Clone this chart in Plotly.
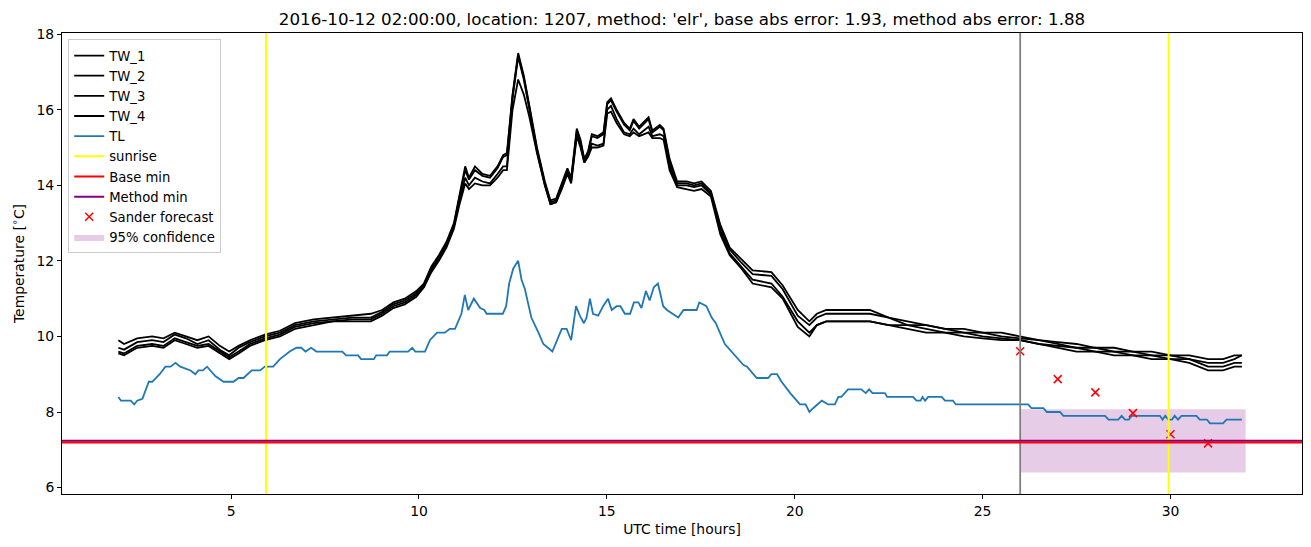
import plotly.graph_objects as go

# ---------------- data ----------------
title_text = ("2016-10-12 02:00:00, location: 1207, method: 'elr', "
              "base abs error: 1.93, method abs error: 1.88")

tw_time = [
    2.0, 2.15, 2.5, 2.9, 3.2, 3.5, 3.8, 4.1, 4.4, 4.7,
    4.95, 5.2, 5.5, 5.9, 6.3, 6.7, 7.2, 7.7, 8.22, 8.72,
    9.02, 9.32, 9.62, 9.93, 10.13, 10.33, 10.53, 10.73, 10.93, 11.08,
    11.23, 11.33, 11.49, 11.69, 11.89, 12.09, 12.24, 12.34, 12.49, 12.64,
    12.79, 12.94, 13.14, 13.35, 13.5, 13.65, 13.8, 13.95, 14.05, 14.2,
    14.3, 14.4, 14.5, 14.6, 14.75, 14.91, 15.01, 15.11, 15.26, 15.46,
    15.61, 15.71, 15.86, 16.11, 16.21, 16.41, 16.51, 16.67, 16.87, 17.12,
    17.32, 17.52, 17.77, 18.02, 18.27, 18.58, 18.88, 19.38, 19.68, 20.08,
    20.39, 20.59, 20.84, 21.5, 22.0, 22.5, 23.0, 23.5, 24.0, 24.5,
    25.0, 25.5, 26.0, 26.5, 27.0, 27.5, 28.0, 28.5, 29.0, 29.5,
    30.0, 30.5, 31.0, 31.4, 31.7, 31.9,
]
tw_1 = [
    9.9, 9.8, 9.95, 10.0, 9.95, 10.1, 10.0, 9.9, 10.0, 9.75,
    9.6, 9.75, 9.9, 10.05, 10.15, 10.35, 10.45, 10.5, 10.55, 10.6,
    10.7, 10.9, 11.0, 11.2, 11.4, 11.85, 12.15, 12.5, 13.0, 13.75,
    14.5, 14.2, 14.5, 14.3, 14.25, 14.5, 14.8, 14.85, 16.4, 17.5,
    16.9, 16.1, 15.0, 14.1, 13.6, 13.65, 14.05, 14.45, 14.2, 15.5,
    15.2, 14.7, 14.9, 15.35, 15.3, 15.4, 16.2, 16.3, 16.0, 15.65,
    15.5, 15.75, 15.55, 15.8, 15.45, 15.6, 15.5, 14.7, 14.1, 14.1,
    14.05, 14.1, 13.85, 12.95, 12.35, 12.05, 11.75, 11.7, 11.35, 10.7,
    10.4, 10.6, 10.7, 10.7, 10.7, 10.5, 10.4, 10.3, 10.2, 10.2,
    10.1, 10.1, 10.0, 9.9, 9.85, 9.8, 9.7, 9.7, 9.6, 9.6,
    9.5, 9.5, 9.4, 9.4, 9.5, 9.5,
]
tw_2 = [
    9.7, 9.65, 9.85, 9.9, 9.85, 10.05, 9.95, 9.8, 9.9, 9.65,
    9.5, 9.7, 9.85, 10.0, 10.1, 10.3, 10.4, 10.45, 10.5, 10.5,
    10.65, 10.85, 10.95, 11.15, 11.35, 11.8, 12.1, 12.45, 12.95, 13.7,
    14.4, 14.15, 14.4, 14.25, 14.2, 14.45, 14.75, 14.8, 16.35, 17.45,
    16.85, 16.05, 14.95, 14.05, 13.55, 13.6, 14.0, 14.4, 14.15, 15.45,
    15.15, 14.65, 14.85, 15.3, 15.25, 15.35, 16.15, 16.25, 15.95, 15.6,
    15.45, 15.7, 15.5, 15.75, 15.4, 15.55, 15.45, 14.6, 14.05, 14.05,
    14.0, 14.05, 13.8, 12.9, 12.3, 11.95, 11.65, 11.6, 11.25, 10.55,
    10.3, 10.5, 10.6, 10.6, 10.6, 10.5, 10.3, 10.3, 10.2, 10.1,
    10.1, 10.0, 9.95, 9.9, 9.8, 9.7, 9.7, 9.6, 9.6, 9.5,
    9.5, 9.4, 9.3, 9.3, 9.4, 9.5,
]
tw_3 = [
    9.6, 9.55, 9.75, 9.8, 9.75, 9.95, 9.85, 9.75, 9.8, 9.6,
    9.45, 9.6, 9.8, 9.95, 10.05, 10.25, 10.35, 10.4, 10.45, 10.45,
    10.6, 10.8, 10.9, 11.1, 11.3, 11.75, 12.05, 12.4, 12.9, 13.6,
    14.2, 14.0, 14.2, 14.1, 14.05, 14.3, 14.5, 14.5, 16.3, 17.4,
    16.8, 16.0, 14.9, 14.0, 13.5, 13.55, 13.95, 14.35, 14.1, 15.35,
    15.05, 14.6, 14.8, 15.1, 15.05, 15.1, 16.0, 16.1, 15.75, 15.4,
    15.35, 15.5, 15.35, 15.55, 15.3, 15.35, 15.3, 14.5, 14.0, 14.0,
    13.95, 14.0, 13.75, 12.8, 12.2, 11.85, 11.5, 11.4, 11.05, 10.4,
    10.1, 10.3, 10.4, 10.4, 10.4, 10.3, 10.3, 10.2, 10.1, 10.1,
    10.0, 9.95, 9.9, 9.8, 9.75, 9.7, 9.6, 9.6, 9.5, 9.5,
    9.4, 9.4, 9.2, 9.2, 9.3, 9.3,
]
tw_4 = [
    9.55, 9.5, 9.7, 9.75, 9.7, 9.9, 9.8, 9.7, 9.75, 9.55,
    9.4, 9.55, 9.75, 9.9, 10.0, 10.2, 10.3, 10.4, 10.4, 10.4,
    10.55, 10.75, 10.85, 11.05, 11.3, 11.7, 12.0, 12.35, 12.85, 13.5,
    14.05, 13.9, 14.05, 14.0, 14.0, 14.2, 14.4, 14.4, 16.0, 16.8,
    16.4, 15.8, 14.85, 14.0, 13.5, 13.55, 13.9, 14.3, 14.05, 15.3,
    15.0, 14.6, 14.75, 15.0, 15.0, 15.05, 15.9, 15.95, 15.65, 15.35,
    15.3, 15.4, 15.3, 15.4, 15.25, 15.25, 15.2, 14.4, 13.95, 13.9,
    13.85, 13.9, 13.7, 12.7, 12.15, 11.8, 11.4, 11.3, 11.0, 10.25,
    10.0, 10.3, 10.4, 10.4, 10.4, 10.3, 10.2, 10.1, 10.1, 10.0,
    9.95, 9.9, 9.9, 9.8, 9.7, 9.6, 9.6, 9.5, 9.5, 9.4,
    9.4, 9.3, 9.1, 9.1, 9.2, 9.2,
]

tl_time = [
    2.0, 2.07, 2.33, 2.42, 2.5, 2.64, 2.81, 2.9, 3.1, 3.25,
    3.39, 3.52, 3.65, 3.78, 3.92, 4.05, 4.13, 4.25, 4.36, 4.58,
    4.8, 5.06, 5.2, 5.33, 5.55, 5.77, 5.9, 6.12, 6.3, 6.56,
    6.74, 6.87, 6.98, 7.13, 7.27, 7.96, 8.06, 8.38, 8.46, 8.8,
    8.86, 9.15, 9.22, 9.71, 9.82, 9.9, 10.16, 10.29, 10.48, 10.69,
    10.82, 10.96, 11.13, 11.22, 11.31, 11.46, 11.63, 11.74, 11.8, 12.23,
    12.32, 12.4, 12.51, 12.64, 12.73, 12.82, 12.99, 13.18, 13.31, 13.55,
    13.8, 13.93, 14.05, 14.18, 14.28, 14.39, 14.46, 14.55, 14.63, 14.77,
    14.9, 15.03, 15.13, 15.26, 15.36, 15.48, 15.62, 15.72, 15.84, 15.92,
    16.04, 16.14, 16.25, 16.36, 16.5, 16.6, 16.9, 17.04, 17.39, 17.46,
    17.57, 17.65, 17.79, 17.9, 18.14, 18.36, 18.63, 18.73, 18.99, 19.29,
    19.38, 19.53, 19.65, 19.88, 20.14, 20.29, 20.39, 20.49, 20.72, 20.89,
    21.07, 21.16, 21.24, 21.42, 21.77, 21.89, 21.98, 22.07, 22.4, 22.46,
    23.15, 23.24, 23.35, 23.4, 23.47, 23.55, 23.91, 24.0, 24.21, 24.29,
    26.21, 26.3, 26.62, 26.71, 27.06, 27.15, 28.26, 28.35, 28.61, 28.7,
    28.79, 28.89, 28.97, 29.72, 29.79, 29.86, 29.94, 30.04, 30.11, 30.2,
    30.29, 30.69, 30.78, 30.97, 31.05, 31.4, 31.49, 31.9,
]
tl_values = [
    8.4, 8.3, 8.3, 8.2, 8.3, 8.35, 8.8, 8.8, 9.0, 9.2,
    9.2, 9.3, 9.2, 9.15, 9.1, 9.0, 9.1, 9.1, 9.2, 8.95,
    8.8, 8.8, 8.9, 8.9, 9.1, 9.1, 9.2, 9.2, 9.4, 9.6,
    9.7, 9.7, 9.6, 9.7, 9.6, 9.6, 9.5, 9.5, 9.4, 9.4,
    9.5, 9.5, 9.6, 9.6, 9.7, 9.6, 9.6, 9.9, 10.1, 10.1,
    10.2, 10.2, 10.6, 11.1, 10.7, 11.0, 10.75, 10.7, 10.6, 10.6,
    10.8, 11.4, 11.8, 12.0, 11.5, 11.25, 10.5, 10.1, 9.8, 9.6,
    10.2, 10.2, 9.9, 10.8, 10.55, 10.35, 10.5, 11.0, 10.6, 10.55,
    10.8, 11.0, 10.7, 10.8, 10.8, 10.6, 10.6, 10.9, 10.9, 10.75,
    11.2, 10.95, 11.3, 11.4, 10.8, 10.7, 10.5, 10.7, 10.7, 10.9,
    10.85, 10.8, 10.5, 10.35, 9.8, 9.55, 9.25, 9.2, 8.9, 8.9,
    9.0, 9.0, 8.8, 8.5, 8.2, 8.2, 8.0, 8.1, 8.3, 8.2,
    8.2, 8.4, 8.4, 8.6, 8.6, 8.5, 8.6, 8.5, 8.5, 8.4,
    8.4, 8.3, 8.3, 8.4, 8.3, 8.4, 8.4, 8.3, 8.3, 8.2,
    8.2, 8.1, 8.1, 8.0, 8.0, 7.9, 7.9, 7.8, 7.8, 7.9,
    7.8, 7.8, 7.9, 7.9, 7.8, 7.9, 7.8, 7.8, 7.9, 7.8,
    7.9, 7.9, 7.8, 7.8, 7.7, 7.7, 7.8, 7.8,
]

sunrise_times = [5.93, 29.95]
forecast_start = 26.0
base_min = 7.19
method_min = 7.24
sander_time = [26, 27, 28, 29, 30, 31]
sander_values = [9.61, 8.87, 8.52, 7.97, 7.41, 7.17]
conf_start, conf_end = 26.0, 32.0
conf_low, conf_high = 6.40, 8.07

x_ticks = [5, 10, 15, 20, 25, 30]
y_ticks = [6, 8, 10, 12, 14, 16, 18]
x_range = [0.5, 33.5]
y_range = [5.83, 18.03]

FONT = "DejaVu Sans"
FS = 13.9
LEG_FS = 13.2
# ---------------- figure ----------------
fig = go.Figure()

fig.add_trace(go.Scatter(
    x=[conf_start, conf_end, conf_end, conf_start, conf_start],
    y=[conf_low, conf_low, conf_high, conf_high, conf_low],
    fill="toself", fillcolor="rgba(128,0,128,0.2)", mode="lines",
    line=dict(width=0, color="rgba(128,0,128,0.2)"),
    name="95% confidence", legendrank=10, hoverinfo="skip"))

for i, (name, vals) in enumerate([("TW_1", tw_1), ("TW_2", tw_2),
                                   ("TW_3", tw_3), ("TW_4", tw_4)]):
    fig.add_trace(go.Scatter(x=tw_time, y=vals, mode="lines", name=name,
                             line=dict(color="black", width=1.8),
                             legendrank=1 + i))

fig.add_trace(go.Scatter(x=tl_time, y=tl_values, mode="lines", name="TL",
                         line=dict(color="#1f77b4", width=1.8), legendrank=5))

fig.add_trace(go.Scatter(x=[None], y=[None], mode="lines", name="sunrise",
                         line=dict(color="yellow", width=2), legendrank=6))
fig.add_trace(go.Scatter(x=[None], y=[None], mode="lines", name="Base min",
                         line=dict(color="red", width=2), legendrank=7))
fig.add_trace(go.Scatter(x=[None], y=[None], mode="lines", name="Method min",
                         line=dict(color="purple", width=2), legendrank=8))

fig.add_trace(go.Scatter(x=sander_time, y=sander_values, mode="markers",
                         name="Sander forecast",
                         marker=dict(symbol="x-thin", size=8, color="red",
                                     line=dict(color="red", width=1.5)),
                         legendrank=9))

shapes = []
shapes.append(dict(type="line", xref="x", yref="paper", x0=forecast_start,
                   x1=forecast_start, y0=0, y1=1, layer="above",
                   line=dict(color="#808080", width=1.8)))
for s in sunrise_times:
    shapes.append(dict(type="line", xref="x", yref="paper", x0=s, x1=s,
                       y0=0, y1=1, layer="above",
                       line=dict(color="yellow", width=2)))
shapes.append(dict(type="line", xref="paper", yref="y", x0=0, x1=1,
                   y0=method_min, y1=method_min, layer="above",
                   line=dict(color="purple", width=2)))
shapes.append(dict(type="line", xref="paper", yref="y", x0=0, x1=1,
                   y0=base_min, y1=base_min, layer="above",
                   line=dict(color="red", width=2)))

axis_common = dict(showgrid=False, zeroline=False, showline=True, mirror=True,
                   linecolor="black", linewidth=1, ticks="outside",
                   ticklen=4, tickwidth=1, tickcolor="black",
                   tickfont=dict(family=FONT, size=FS, color="black"))

fig.update_layout(
    width=1311, height=547, autosize=False,
    template="none",
    paper_bgcolor="white", plot_bgcolor="white",
    margin=dict(l=62, r=9, t=33, b=53, pad=0),
    font=dict(family=FONT, size=FS, color="black"),
    title=dict(text=title_text, x=0.5, xref="paper", xanchor="center",
               y=1, yref="paper", yanchor="bottom", pad=dict(b=8),
               font=dict(family=FONT, size=16.7, color="black")),
    xaxis=dict(range=x_range, tickvals=x_ticks,
               title=dict(text="UTC time [hours]", standoff=6,
                          font=dict(family=FONT, size=FS)),
               **axis_common),
    yaxis=dict(range=y_range, tickvals=y_ticks,
               title=dict(text="Temperature [<sup>∘</sup>C]", standoff=8,
                          font=dict(family=FONT, size=FS)),
               **axis_common),
    legend=dict(x=0.005, y=0.986, xanchor="left", yanchor="top",
                bgcolor="rgba(255,255,255,0.8)", bordercolor="#cccccc",
                borderwidth=1, font=dict(family=FONT, size=LEG_FS),
                traceorder="normal"),
    shapes=shapes,
    showlegend=True,
)

fig.write_html("out.html")
